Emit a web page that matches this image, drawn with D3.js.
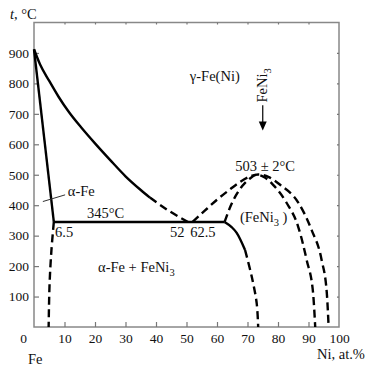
<!DOCTYPE html>
<html>
<head>
<meta charset="utf-8">
<script src="https://cdn.jsdelivr.net/npm/d3@7"></script>
<style>
  body { margin: 0; background: #fff; }
  .frame { fill: none; stroke: #888; stroke-width: 1.5; }
  .axis path { display: none; }
  .axis line { stroke: #777; stroke-width: 1.2; }
  .solid { fill: none; stroke: #000; stroke-width: 2.4; }
  .dash { fill: none; stroke: #000; stroke-width: 2.4; stroke-dasharray: 8,4.5; }
</style>
</head>
<body>
<div id="chart"></div>
<script>
// tick labels
const xTicks = [0, 10, 20, 30, 40, 50, 60, 70, 80, 90, 100];
const yTicks = [100, 200, 300, 400, 500, 600, 700, 800, 900];

// phase boundaries, [Ni at.%, t °C]
const alphaSolid = [[0, 912], [6.5, 345]];
const alphaDashed = [[6.5, 345], [5.7, 250], [5.1, 140], [4.8, 0]];
const gammaSolid = [[0, 912], [2, 862], [5, 808], [8, 757], [11.5, 705], [15.5, 655], [20, 603],
                    [25, 548], [30, 495], [35, 450], [38, 425]];
const gammaDashed = [[38, 425], [44, 383], [50.5, 345]];
const eutectoid = [[6.5, 345], [62.5, 345]];
const orderOuter = [[52, 345], [56, 382], [60, 418], [64, 450], [67.5, 476], [70.5, 493], [73.5, 501],
                    [77, 492], [80.7, 467], [86.7, 408], [91, 319], [94.3, 220], [96, 112], [96.6, 0]];
const orderInner = [[62.5, 345], [64.5, 398], [66.2, 432], [68.2, 462], [70.7, 487], [73, 500],
                    [75.5, 492], [78.4, 467], [82.8, 408], [86.6, 330], [89.4, 220], [91.5, 112], [92.2, 0]];
const ni3Solid = [[62.5, 345], [64.8, 328], [66.4, 310], [69.2, 253]];
const ni3Dashed = [[69.2, 253], [71.4, 165], [73, 79], [73.5, 0]];

const W = 367, H = 368;
const serif = "'Liberation Serif', 'Times New Roman', serif";
const svg = d3.select("#chart").append("svg")
    .attr("width", W).attr("height", H);

const x = d3.scaleLinear().domain([0, 100]).range([34, 339]);
const y = d3.scaleLinear().domain([0, 1000]).range([327, 22.5]);

const line = d3.line().x(d => x(d[0])).y(d => y(d[1]));
const smooth = d3.line().x(d => x(d[0])).y(d => y(d[1])).curve(d3.curveMonotoneX);
const smoothY = d3.line().x(d => x(d[0])).y(d => y(d[1])).curve(d3.curveCatmullRom);

// frame
svg.append("rect").attr("class", "frame")
    .attr("x", x(0)).attr("y", y(1000))
    .attr("width", x(100) - x(0)).attr("height", y(0) - y(1000));

// axes with inward ticks
const gx = svg.append("g").attr("class", "axis")
    .attr("transform", `translate(0,${y(0)})`)
    .call(d3.axisBottom(x).tickValues(xTicks).tickSizeInner(-5).tickSizeOuter(0).tickPadding(6));
gx.selectAll(".tick").filter(d => d === 0).select("text").attr("dx", -11);
gx.selectAll(".tick").filter(d => d === 0 || d === 100).select("line").remove();

svg.append("g").attr("class", "axis")
    .attr("transform", `translate(${x(0)},0)`)
    .call(d3.axisLeft(y).tickValues(yTicks).tickSizeInner(-5).tickSizeOuter(0).tickPadding(5));

svg.append("g").attr("class", "axis")
    .attr("transform", `translate(0,${y(1000)})`)
    .call(d3.axisTop(x).tickValues(xTicks.slice(1, -1)).tickSizeInner(-2).tickSizeOuter(0).tickFormat(""));

svg.append("g").attr("class", "axis")
    .attr("transform", `translate(${x(100)},0)`)
    .call(d3.axisRight(y).tickValues(yTicks).tickSizeInner(-2).tickSizeOuter(0).tickFormat(""));

svg.selectAll(".axis text")
    .style("font-family", serif).style("font-size", "13.5px").style("fill", "#111");

// curves
svg.append("path").attr("class", "solid").attr("d", line(alphaSolid));
svg.append("path").attr("class", "dash").attr("d", smoothY(alphaDashed));
svg.append("path").attr("class", "solid").attr("d", smooth(gammaSolid));
svg.append("path").attr("class", "dash").attr("d", smooth(gammaDashed));
svg.append("path").attr("class", "solid").attr("d", line(eutectoid));
svg.append("path").attr("class", "dash").attr("d", smooth(orderOuter));
svg.append("path").attr("class", "dash").attr("d", smooth(orderInner));
svg.append("path").attr("class", "solid").attr("d", smooth(ni3Solid));
svg.append("path").attr("class", "dash").attr("d", smoothY(ni3Dashed));

function txt(sel) {
    return sel.style("font-family", serif).style("font-size", "14.5px").style("fill", "#111");
}

// labels; parts are strings, or {s: "3"} for a subscript
function label(xv, yv, parts, anchor) {
    const t = txt(svg.append("text"))
        .attr("x", x(xv)).attr("y", y(yv))
        .attr("text-anchor", anchor || "start");
    let down = false;
    parts.forEach(p => {
        if (typeof p === "string") {
            t.append("tspan").attr("dy", down ? -4 : 0).text(p);
            down = false;
        } else {
            t.append("tspan").attr("dy", 4).style("font-size", "10.5px").text(p.s);
            down = true;
        }
    });
    return t;
}

label(51.1, 809, ["γ-Fe(Ni)"]);
label(75.8, 513, ["503 ± 2°C"], "middle");
label(11.1, 431, ["α-Fe"]);
label(17.4, 358, ["345°C"]);
label(6.9, 296, ["6.5"]);
label(44.6, 296, ["52"]);
label(51.2, 296, ["62.5"]);
label(67.5, 345, ["(FeNi", {s: "3"}, " )"]);
label(21, 181, ["α-Fe + FeNi", {s: "3"}]);

// leader for α-Fe
svg.append("line")
    .attr("x1", x(2.9)).attr("y1", y(412))
    .attr("x2", x(10.2)).attr("y2", y(434))
    .attr("stroke", "#333").attr("stroke-width", 1);

// FeNi3 composition marker
const ax = x(75);
const ft = txt(svg.append("text"))
    .attr("transform", `translate(${ax + 4.5},${y(737)}) rotate(-90)`);
ft.append("tspan").text("FeNi");
ft.append("tspan").attr("dy", 4).style("font-size", "10.5px").text("3");
svg.append("line")
    .attr("x1", ax).attr("x2", ax)
    .attr("y1", y(728)).attr("y2", y(672))
    .attr("stroke", "#000").attr("stroke-width", 1.2);
svg.append("path")
    .attr("d", `M${ax - 4},${y(675)} L${ax + 4},${y(675)} L${ax},${y(645)} Z`)
    .attr("fill", "#000");

// axis titles
const tl = txt(svg.append("text")).attr("x", 10).attr("y", 19);
tl.append("tspan").style("font-style", "italic").text("t");
tl.append("tspan").text(", °C");
txt(svg.append("text")).attr("x", 28).attr("y", 364).text("Fe");
txt(svg.append("text")).attr("x", 317).attr("y", 359).text("Ni, at.%");
</script>
</body>
</html>
